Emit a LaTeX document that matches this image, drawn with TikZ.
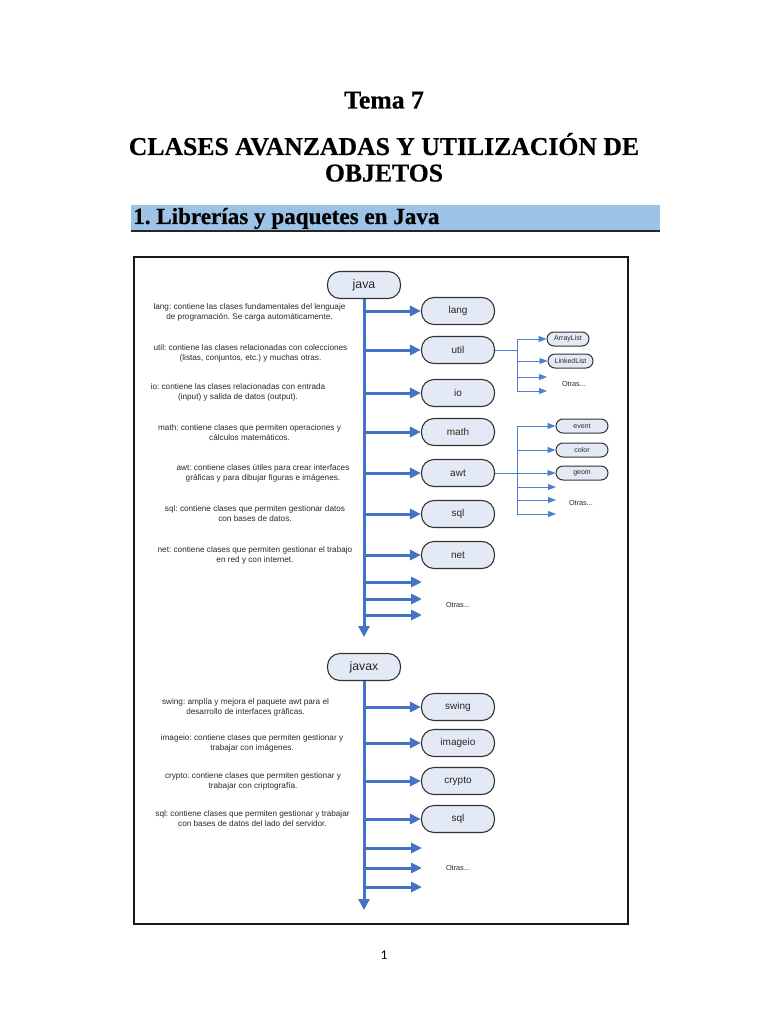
\documentclass[tikz,border=0pt]{standalone}
\usepackage{fontspec}
\setmainfont{Liberation Serif}[BoldFont={Liberation Serif Bold}]
\setsansfont{Liberation Sans}
\newfontfamily\titlefont{Liberation Serif Bold}[FakeBold=0.6]
\newfontfamily\pagenumfont{Carlito}
\usetikzlibrary{arrows.meta}
\definecolor{mainblue}{HTML}{4472C4}
\definecolor{thinblue}{HTML}{4F80D0}
\definecolor{nodefill}{HTML}{E4EAF5}
\definecolor{nodeborder}{HTML}{333333}
\definecolor{headbar}{HTML}{9DC3E6}
\definecolor{desctext}{HTML}{2A2A2A}
\frenchspacing
\tikzset{
  bigtitle/.style={anchor=base, font=\titlefont\fontsize{25.7}{30}\selectfont},
  pkg/.style={draw=nodeborder, fill=nodefill, line width=1.1pt, rounded corners=12.5pt,
    minimum width=73pt, minimum height=27pt, inner sep=0pt,
    font=\sffamily\fontsize{10}{12}\selectfont, text=black!85},
  rootpkg/.style={pkg, font=\sffamily\fontsize{12.3}{14}\selectfont},
  subpkg/.style={draw=nodeborder, fill=nodefill, line width=1pt, rounded corners=7pt,
    minimum height=14pt, inner sep=0pt, font=\sffamily\fontsize{7}{8}\selectfont, text=black!85},
  desc/.style={align=center, font=\sffamily\fontsize{8.2}{10}\selectfont, text=desctext, inner sep=0pt},
  otras/.style={font=\sffamily\fontsize{7.3}{9}\selectfont, text=desctext, inner sep=0pt},
  trunk/.style={line width=3pt, draw=mainblue, -{Triangle[width=11pt,length=11pt]}},
  branch/.style={line width=3pt, draw=mainblue, -{Triangle[width=10pt,length=11pt]}},
  thinarrow/.style={line width=0.9pt, draw=thinblue, -{Triangle[width=6pt,length=8pt]}},
  thinline/.style={line width=0.9pt, draw=thinblue}
}
\begin{document}
\begin{tikzpicture}[x=1pt,y=-1pt]
\useasboundingbox (0,0) rectangle (768,1024);
\fill[white] (0,0) rectangle (768,1024);

% ---- titles ----
\node[bigtitle] (tema) at (384,108.5) {Tema 7};
\node[bigtitle] (title1) at (384,155) {CLASES AVANZADAS Y UTILIZACIÓN DE};
\node[bigtitle] (title2) at (384,181.5) {OBJETOS};
\fill[headbar] (131,205) rectangle (660,230);
\draw[line width=1.3pt, black!85] (131,231) -- (660,231);
\node[anchor=base west, inner sep=0pt, font=\titlefont\fontsize{23.1}{26}\selectfont] (sec) at (133,224) {1. Librerías y paquetes en Java};

% ---- frame ----
\draw[line width=2pt, black!90] (134,257) rectangle (628,924);

% ---- java part ----
\node[rootpkg] (java) at (364,285) {java};
\node[pkg] (lang) at (458,311) {lang};
\node[pkg] (util) at (458,350) {util};
\node[pkg] (io) at (458,393) {io};
\node[pkg] (math) at (458,432) {math};
\node[pkg] (awt) at (458,473) {awt};
\node[pkg] (sql) at (458,514) {sql};
\node[pkg] (net) at (458,555) {net};
\coordinate (je1) at (422,582);
\coordinate (je2) at (422,599);
\coordinate (je3) at (422,615);
\coordinate (jend) at (364,637);
\node[otras] (jotras) at (458,605) {Otras...};

\draw[trunk] (java.south) -- (jend);
\foreach \n in {lang,util,io,math,awt,sql,net}{
  \draw[branch] (java.south |- \n.west) -- (\n.west);
}
\foreach \n in {je1,je2,je3}{
  \draw[branch] (java.south |- \n) -- (\n);
}

% descriptions (java)
\node[desc] (dlang) at (249.5,312) {lang: contiene las clases fundamentales del lenguaje\\de programación. Se carga automáticamente.};
\node[desc] (dutil) at (250.5,353) {util: contiene las clases relacionadas con colecciones\\(listas, conjuntos, etc.) y muchas otras.};
\node[desc] (dio) at (238,392) {io: contiene las clases relacionadas con entrada\\(input) y salida de datos (output).};
\node[desc] (dmath) at (249.5,433) {math: contiene clases que permiten operaciones y\\cálculos matemáticos.};
\node[desc] (dawt) at (263,473) {awt: contiene clases útiles para crear interfaces\\gráficas y para dibujar figuras e imágenes.};
\node[desc] (dsql) at (255,514) {sql: contiene clases que permiten gestionar datos\\con bases de datos.};
\node[desc] (dnet) at (255,555) {net: contiene clases que permiten gestionar el trabajo\\en red y con internet.};

% util sub-packages
\node[subpkg, minimum width=42pt] (arraylist) at (568,339) {ArrayList};
\node[subpkg, minimum width=45pt] (linkedlist) at (570.5,361) {LinkedList};
\coordinate (ue1) at (547,377);
\coordinate (ue2) at (547,391);
\coordinate (uj) at (517,350);
\node[otras] (uotras) at (574,384) {Otras...};
\draw[thinline] (util.east) -- (uj);
\draw[thinline] (uj |- arraylist.west) -- (uj |- ue2);
\draw[thinarrow] (uj |- arraylist.west) -- (arraylist.west);
\draw[thinarrow] (uj |- linkedlist.west) -- (linkedlist.west);
\draw[thinarrow] (uj |- ue1) -- (ue1);
\draw[thinarrow] (uj |- ue2) -- (ue2);

% awt sub-packages
\node[subpkg, minimum width=52pt] (event) at (582,426) {event};
\node[subpkg, minimum width=52pt] (color) at (582,450) {color};
\node[subpkg, minimum width=52pt] (geom) at (582,473) {geom};
\coordinate (ae1) at (556,487);
\coordinate (ae2) at (556,500);
\coordinate (ae3) at (556,514);
\coordinate (aj) at (517,473);
\node[otras] (aotras) at (581,503) {Otras...};
\draw[thinline] (uj |- event.west) -- (uj |- ae3);
\draw[thinarrow] (awt.east) -- (geom.west);
\draw[thinarrow] (aj |- event.west) -- (event.west);
\draw[thinarrow] (aj |- color.west) -- (color.west);
\draw[thinarrow] (aj |- ae1) -- (ae1);
\draw[thinarrow] (aj |- ae2) -- (ae2);
\draw[thinarrow] (aj |- ae3) -- (ae3);

% ---- javax part ----
\node[rootpkg] (javax) at (364,667) {javax};
\node[pkg] (swing) at (458,707) {swing};
\node[pkg] (imageio) at (458,743) {imageio};
\node[pkg] (crypto) at (458,781) {crypto};
\node[pkg] (sqlx) at (458,819) {sql};
\coordinate (xe1) at (422,848);
\coordinate (xe2) at (422,868);
\coordinate (xe3) at (422,887);
\coordinate (xend) at (364,910);
\node[otras] (xotras) at (458,868) {Otras...};

\draw[trunk] (javax.south) -- (xend);
\foreach \n in {swing,imageio,crypto,sqlx}{
  \draw[branch] (javax.south |- \n.west) -- (\n.west);
}
\foreach \n in {xe1,xe2,xe3}{
  \draw[branch] (javax.south |- \n) -- (\n);
}

\node[desc] (dswing) at (245.5,707) {swing: amplía y mejora el paquete awt para el\\desarrollo de interfaces gráficas.};
\node[desc] (dimageio) at (252,743) {imageio: contiene clases que permiten gestionar y\\trabajar con imágenes.};
\node[desc] (dcrypto) at (253,781) {crypto: contiene clases que permiten gestionar y\\trabajar con criptografía.};
\node[desc] (dsqlx) at (252.5,819) {sql: contiene clases que permiten gestionar y trabajar\\con bases de datos del lado del servidor.};

% page number
\node[font=\pagenumfont\fontsize{13.5}{15}\selectfont, inner sep=0pt] (pnum) at (384,955) {1};
\end{tikzpicture}
\end{document}
